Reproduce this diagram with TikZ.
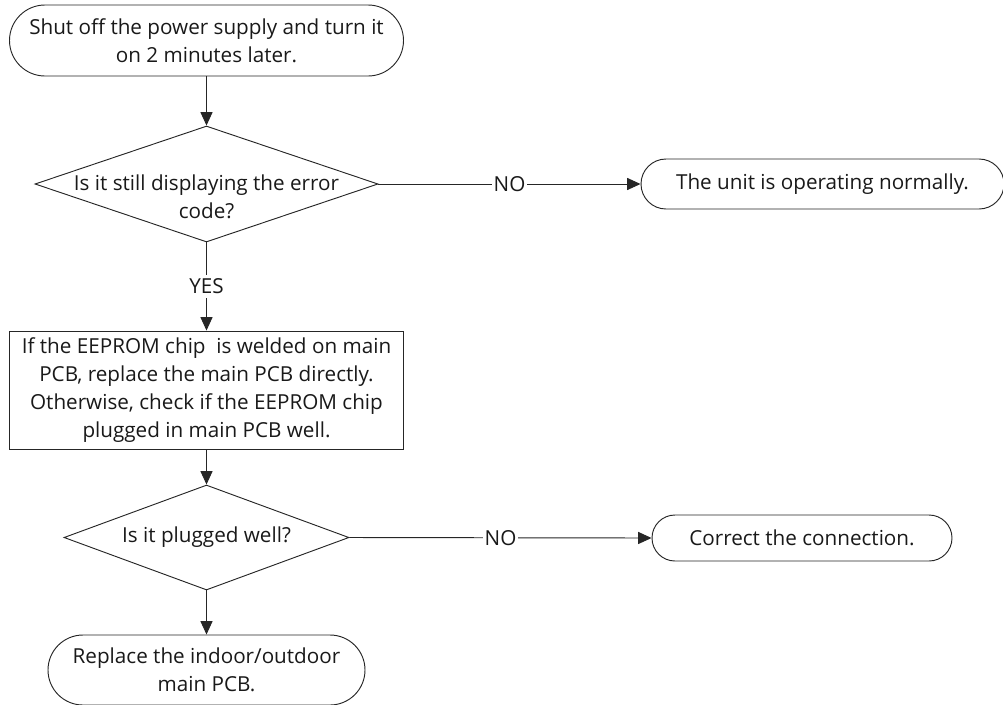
\documentclass[tikz,border=0pt]{standalone}
\usepackage{fontspec}
\setmainfont{Open Sans}
\usetikzlibrary{shapes.geometric,arrows.meta}
\begin{document}
\begin{tikzpicture}[x=0.75pt,y=-0.75pt,
  line width=0.7pt,
  every node/.style={text=black!90},
  txt/.style={font=\fontsize{15.5pt}{21pt}\selectfont, align=center, inner sep=0pt},
  term/.style={txt, draw=black!85, rectangle, rounded corners=#1},
  procbox/.style={txt, draw=black!85, rectangle},
  decision/.style={draw=black!85, diamond, inner sep=0pt},
  arr/.style={draw=black!85, -{Triangle[length=10pt,width=9pt]}},
  lbl/.style={txt, fill=white, inner sep=1pt}
]
\useasboundingbox (0,0) rectangle (1003,704);

\node[term=26.6pt, minimum width=295.5pt, minimum height=53.25pt] (t1) at (206.5,40.5)
  {Shut off the power supply and turn it\\on 2 minutes later.};

\node[decision, minimum width=257.25pt, minimum height=87pt] (d1) at (206.5,184) {};
\node[txt] (d1t) at (206.5,197) {Is it still displaying the error\\code?};

\node[term=18.75pt, minimum width=272.25pt, minimum height=37.5pt] (t2) at (822.5,184)
  {The unit is operating normally.};

\node[procbox, minimum width=295.5pt, minimum height=88.5pt] (b1) at (206.5,390)
  {If the EEPROM chip~ is welded on main\\PCB, replace the main PCB directly.\\Otherwise, check if the EEPROM chip\\plugged in main PCB well.};

\node[decision, minimum width=213.75pt, minimum height=78.75pt] (d2) at (206.5,537.5) {};
\node[txt] (d2t) at (206.5,537.5) {Is it plugged well?};

\node[term=17.25pt, minimum width=225pt, minimum height=34.5pt] (t4) at (802,538)
  {Correct the connection.};

\node[term=26.25pt, minimum width=237.75pt, minimum height=52.5pt] (t3) at (206.5,670)
  {Replace the indoor/outdoor\\main PCB.};

\draw[arr] (t1.south) -- (d1.north);
\draw[arr] (d1.south) -- node[lbl, inner sep=3pt] (yes) {YES} (b1.north);
\draw[arr] (d1.east) -- node[lbl] (no1) {NO} (t2.west);
\draw[arr] (b1.south) -- (d2.north);
\draw[arr] (d2.east) -- node[lbl] (no2) {NO} (t4.west);
\draw[arr] (d2.south) -- (t3.north);
\end{tikzpicture}
\end{document}
